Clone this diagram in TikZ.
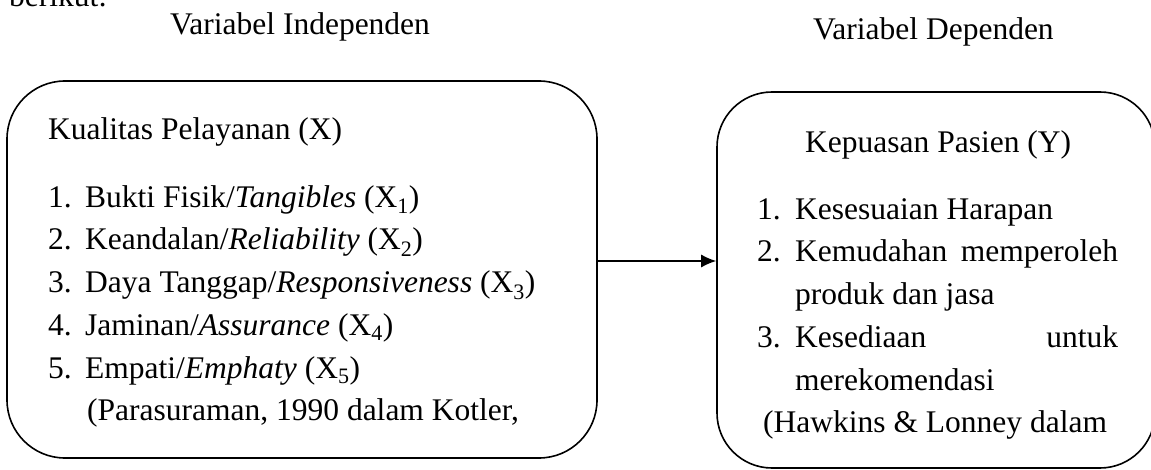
\documentclass[tikz,border=0pt]{standalone}
\usepackage{fontspec}
\setmainfont{Liberation Serif}
\usetikzlibrary{arrows.meta}
\begin{document}
\begin{tikzpicture}[x=1pt,y=-1pt,
  txt/.style={anchor=base west, inner sep=0pt, font=\fontsize{31.5}{38}\selectfont},
  box/.style={draw, line width=1.6pt, inner sep=0pt},
  conn/.style={line width=1.4pt, -{Latex[length=15pt,width=13pt]}}]
\clip (0,0) rectangle (1151,470);
% partially visible text at top
\node[txt] (top) at (9,7) {berikut:};
% headers
\node[txt] (hI) at (170,35) {Variabel Independen};
\node[txt] (hD) at (813,40) {Variabel Dependen};
% boxes
\node[box, rounded corners=58pt, minimum width=590pt, minimum height=377pt] (L) at (302,269.5) {};
\node[box, rounded corners=55pt, minimum width=438pt, minimum height=376pt] (R) at (936,280) {};
% left box text
\node[txt] (lt) at (48,140) {Kualitas Pelayanan (X)};
\node[txt] (l1) at (48,208) {\makebox[37pt][l]{1.}Bukti Fisik/\textit{Tangibles} (X\textsubscript{1})};
\node[txt] (l2) at (48,250) {\makebox[37pt][l]{2.}Keandalan/\textit{Reliability} (X\textsubscript{2})};
\node[txt] (l3) at (48,293) {\makebox[37pt][l]{3.}Daya Tanggap/\textit{Responsiveness} (X\textsubscript{3})};
\node[txt] (l4) at (48,335) {\makebox[37pt][l]{4.}Jaminan/\textit{Assurance} (X\textsubscript{4})};
\node[txt] (l5) at (48,378) {\makebox[37pt][l]{5.}Empati/\textit{Emphaty} (X\textsubscript{5})};
\node[txt] (l6) at (87,420) {(Parasuraman, 1990 dalam Kotler,};
% right box text
\node[txt] (rt) at (805,153) {Kepuasan Pasien (Y)};
\node[txt] (r1) at (757,220) {\makebox[38pt][l]{1.}Kesesuaian Harapan};
\node[txt] (r2) at (757,262) {\makebox[38pt][l]{2.}\makebox[323pt][s]{Kemudahan memperoleh}};
\node[txt] (r2b) at (795,305) {produk dan jasa};
\node[txt] (r3) at (757,347) {\makebox[38pt][l]{3.}\makebox[323pt][s]{Kesediaan untuk}};
\node[txt] (r3b) at (795,390) {merekomendasi};
\node[txt] (r4) at (763,432) {(Hawkins \& Lonney dalam};
% connector
\coordinate (ay) at (0,261);
\draw[conn] (L.east |- ay) -- (R.west |- ay);
\end{tikzpicture}
\end{document}
